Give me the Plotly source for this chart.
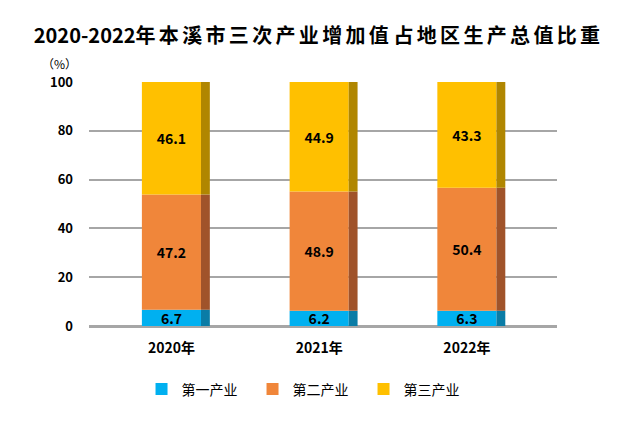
import plotly.graph_objects as go

# --- data ---
years = ["2020年", "2021年", "2022年"]
primary = [6.7, 6.2, 6.3]
secondary = [47.2, 48.9, 50.4]
tertiary = [46.1, 44.9, 43.3]

series_names = ["第一产业", "第二产业", "第三产业"]
front_colors = ["#00B0F0", "#F0863A", "#FFC000"]
side_colors = ["#0A7CA6", "#A0532A", "#B08600"]

title_head = "2020-2022"
title_words = ["年本溪市三次产业增加值", "占地区生产总值比重"]

FONT = "Noto Sans CJK SC"
GAP = "\u2006"  # a bit of letter spacing for the CJK title

title_text = title_head + " ".join(GAP.join(w) for w in title_words)

fig = go.Figure()

base = [0.0] * len(years)
for name, vals, fc, sc in zip(series_names, [primary, secondary, tertiary], front_colors, side_colors):
    # front face
    fig.add_trace(go.Bar(
        x=years,
        y=vals,
        base=base,
        name=name,
        width=0.4,
        offset=-0.2,
        marker=dict(color=fc, line=dict(width=0)),
        text=[f"{v:.1f}" for v in vals],
        textposition="inside",
        insidetextanchor="middle",
        constraintext="none",
        textfont=dict(family=FONT, size=14, color="black", weight="bold"),
        hoverinfo="skip",
    ))
    # side face (fake 3d depth)
    fig.add_trace(go.Bar(
        x=years,
        y=vals,
        base=base,
        showlegend=False,
        width=0.06,
        offset=0.2,
        marker=dict(color=sc, line=dict(width=0)),
        hoverinfo="skip",
    ))
    base = [b + v for b, v in zip(base, vals)]

# page body has an 8px margin, so margins are shifted to compensate
fig.update_layout(
    width=627,
    height=425,
    barmode="overlay",
    uniformtext=dict(minsize=14, mode="show"),
    plot_bgcolor="white",
    paper_bgcolor="white",
    margin=dict(l=81, r=78, t=74, b=107),
    title=dict(
        text=title_text,
        x=0.487,
        xanchor="center",
        xref="paper",
        y=0.935,
        yanchor="middle",
        font=dict(family=FONT, size=20, color="black", weight="bold"),
    ),
    legend=dict(
        orientation="h",
        x=0.468,
        xanchor="center",
        y=-0.26,
        yanchor="middle",
        font=dict(family=FONT, size=14, color="black"),
        itemwidth=30,
        entrywidth=66,
    ),
    font=dict(family=FONT, color="black"),
)

fig.update_xaxes(
    range=[-0.558, 2.61],
    showgrid=False,
    showline=False,
    ticks="",
    ticklabelstandoff=12,
    tickfont=dict(family=FONT, size=14, color="black", weight="bold"),
)
fig.update_yaxes(
    range=[0, 100],
    dtick=20,
    showgrid=True,
    gridcolor="#A6A6A6",
    gridwidth=1.5,
    zeroline=True,
    zerolinecolor="#A6A6A6",
    zerolinewidth=3,
    showline=False,
    tickfont=dict(family=FONT, size=13, color="black", weight="bold"),
    ticklabelstandoff=15,
)

fig.add_annotation(
    text="（%）",
    xref="paper",
    yref="paper",
    x=-0.062,
    y=1.075,
    xanchor="center",
    yanchor="middle",
    showarrow=False,
    font=dict(family=FONT, size=12, color="black"),
)

fig.write_html("out.html")
